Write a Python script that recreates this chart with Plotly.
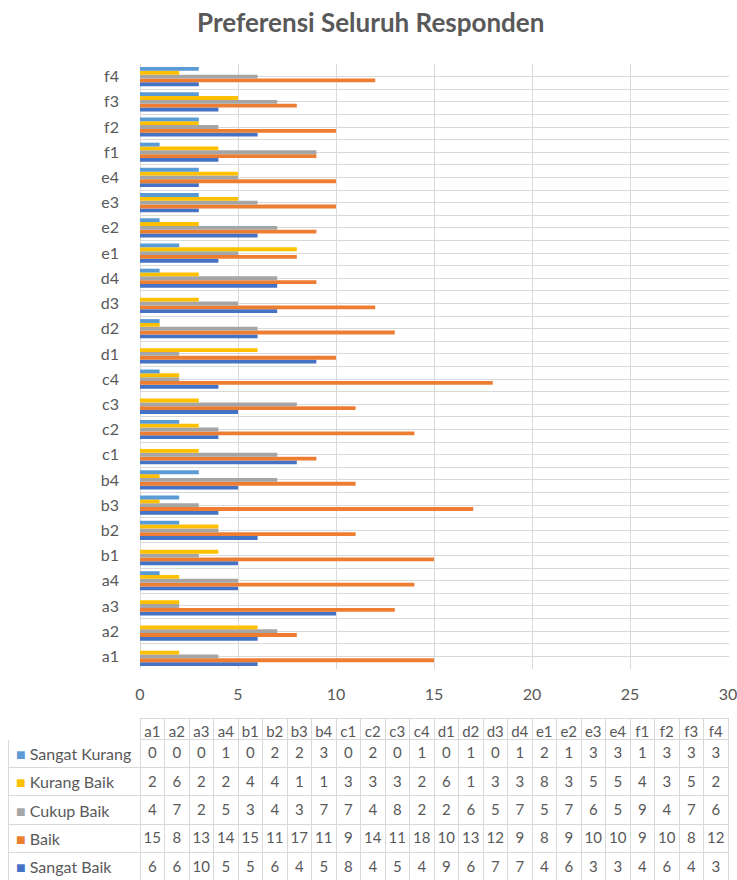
import plotly.graph_objects as go

categories = ["a1", "a2", "a3", "a4", "b1", "b2", "b3", "b4",
              "c1", "c2", "c3", "c4", "d1", "d2", "d3", "d4",
              "e1", "e2", "e3", "e4", "f1", "f2", "f3", "f4"]

sangat_kurang = [0, 0, 0, 1, 0, 2, 2, 3, 0, 2, 0, 1, 0, 1, 0, 1, 2, 1, 3, 3, 1, 3, 3, 3]
kurang_baik = [2, 6, 2, 2, 4, 4, 1, 1, 3, 3, 3, 2, 6, 1, 3, 3, 8, 3, 5, 5, 4, 3, 5, 2]
cukup_baik = [4, 7, 2, 5, 3, 4, 3, 7, 7, 4, 8, 2, 2, 6, 5, 7, 5, 7, 6, 5, 9, 4, 7, 6]
baik = [15, 8, 13, 14, 15, 11, 17, 11, 9, 14, 11, 18, 10, 13, 12, 9, 8, 9, 10, 10, 9, 10, 8, 12]
sangat_baik = [6, 6, 10, 5, 5, 6, 4, 5, 8, 4, 5, 4, 9, 6, 7, 7, 4, 6, 3, 3, 4, 6, 4, 3]

series_names = ["Sangat Kurang", "Kurang Baik", "Cukup Baik", "Baik", "Sangat Baik"]
series_values = [sangat_kurang, kurang_baik, cukup_baik, baik, sangat_baik]
series_colors = ["#5B9BD5", "#FFC000", "#A5A5A5", "#ED7D31", "#4472C4"]

W, H = 737, 880
FONT = "Lato"
TXT = "#595959"
GRID = "#D9D9D9"
XMAX = 30

fig = go.Figure()

# bars: first trace is drawn at the bottom of each group
for name, vals, col in reversed(list(zip(series_names, series_values, series_colors))):
    fig.add_trace(go.Bar(
        x=vals, y=categories, orientation="h", name=name,
        marker=dict(color=col, line=dict(width=0)),
        showlegend=False,
    ))

# invisible helper trace for boundary gridlines on overlaid axis
fig.add_trace(go.Scatter(
    x=[0] * len(categories), y=categories, yaxis="y2", mode="markers",
    marker=dict(opacity=0), hoverinfo="skip", showlegend=False,
))

# data table
px_left, px_legend, px_right = 8, 140, 728
tbl_top, head_h, row_h = 718, 21, 28.4
col_w = (px_right - px_legend) / len(categories)
cells_values = [[""] * len(series_names)] + [[str(v[i]) for v in series_values] for i in range(len(categories))]

fig.add_trace(go.Table(
    domain=dict(x=[px_left / W, px_right / W], y=[0, (H - tbl_top) / H]),
    columnwidth=[px_legend - px_left] + [col_w] * len(categories),
    header=dict(
        values=[""] + categories,
        height=head_h,
        align="center",
        font=dict(family=FONT, size=15, color=TXT),
        fill=dict(color="white"),
        line=dict(color=["white"] + [GRID] * len(categories), width=1),
    ),
    cells=dict(
        values=cells_values,
        height=row_h,
        align="center",
        font=dict(family=FONT, size=15, color=TXT),
        fill=dict(color="white"),
        line=dict(color=GRID, width=1),
    ),
))

# legend keys + names in the table's first column
annotations = []
for i, (n, c) in enumerate(zip(series_names, series_colors)):
    yc = 1 - (tbl_top + head_h + row_h * (i + 0.5)) / H
    annotations.append(dict(
        x=14 / W, y=yc, xref="paper", yref="paper", xanchor="left", yanchor="middle",
        text='<span style="color:%s">■</span> %s' % (c, n), showarrow=False,
        font=dict(family=FONT, size=16, color=TXT),
    ))

xpad = 0.05
fig.update_layout(
    width=W, height=H,
    margin=dict(l=0, r=0, t=0, b=0, autoexpand=False),
    paper_bgcolor="white", plot_bgcolor="white",
    title=dict(text="<b>Preferensi Seluruh Responden</b>", x=0.503, xanchor="center",
               y=1 - 23 / H, yanchor="middle",
               font=dict(family=FONT, size=26, color=TXT)),
    barmode="group", bargap=0.24, bargroupgap=0,
    font=dict(family=FONT, color=TXT),
    annotations=annotations,
    xaxis=dict(
        domain=[px_legend / W, (px_right + (px_right - px_legend) * xpad / XMAX) / W],
        range=[0, XMAX + xpad], tickvals=[0, 5, 10, 15, 20, 25, 30],
        showgrid=True, gridcolor=GRID, gridwidth=1,
        zeroline=True, zerolinecolor=GRID, zerolinewidth=1,
        showline=False, ticks="", ticklabelstandoff=14, ticklabeloverflow="allow",
        automargin=False,
        tickfont=dict(family=FONT, size=16, color=TXT),
    ),
    yaxis=dict(
        domain=[(H - 669) / H, (H - 64) / H],
        type="category", categoryorder="array", categoryarray=categories,
        range=[-0.5, len(categories) - 0.5],
        showgrid=True, gridcolor=GRID, gridwidth=1,
        showline=False, ticks="", ticklabelstandoff=20, automargin=False,
        tickfont=dict(family=FONT, size=16, color=TXT),
    ),
    yaxis2=dict(
        overlaying="y", type="category", categoryorder="array", categoryarray=categories,
        range=[-0.5, len(categories) - 0.5], tickson="boundaries",
        showgrid=True, gridcolor=GRID, gridwidth=1, automargin=False,
        showticklabels=False, ticks="", showline=False, side="left",
    ),
)

fig.write_html("out.html")
